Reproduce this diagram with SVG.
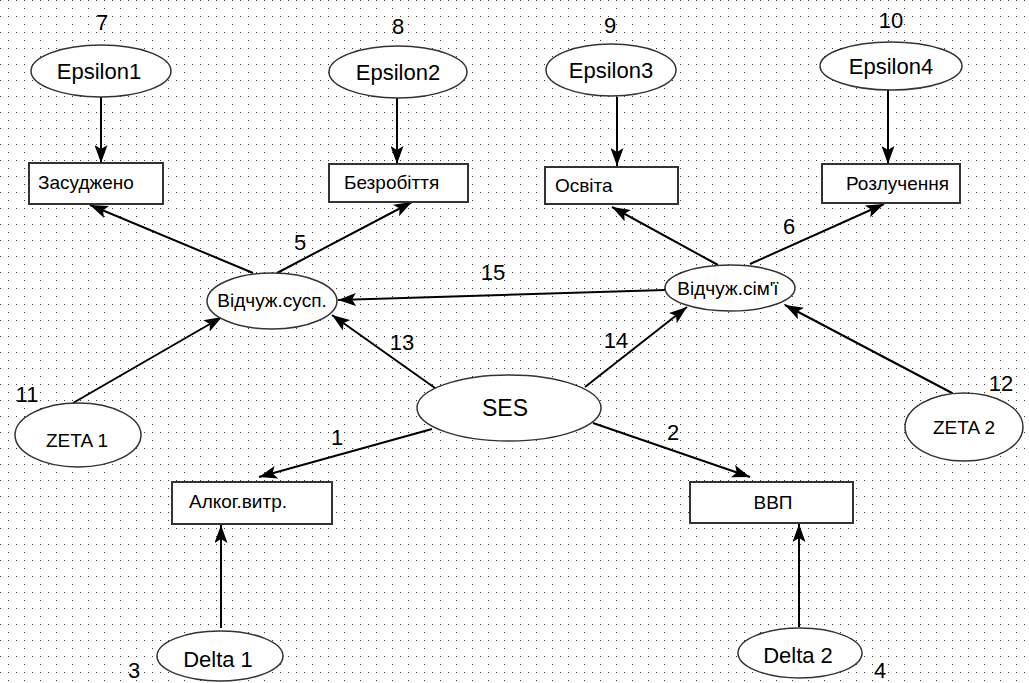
<svg xmlns="http://www.w3.org/2000/svg" width="1029" height="683" viewBox="0 0 1029 683">
<style>
.el{fill:#fff;stroke:#333;stroke-width:1.5}
.bx{fill:#fff;stroke:#333;stroke-width:2}
.t{font-family:"Liberation Sans",Arial,sans-serif;fill:#000}
.big{font-size:22px}
.box{font-size:19px}
.num{font-family:"Liberation Sans",Arial,sans-serif;font-size:22px;fill:#000;text-anchor:middle}
.c{stroke:#000;stroke-width:2;fill:none;marker-end:url(#ah)}
</style>
<defs>
<pattern id="dots" width="16" height="16" patternUnits="userSpaceOnUse">
<rect x="0" y="0" width="1" height="1" fill="#333"/>
<rect x="8" y="0" width="1" height="1" fill="#333"/>
<rect x="8" y="8" width="1" height="1" fill="#333"/>
</pattern>
<marker id="ah" markerUnits="userSpaceOnUse" markerWidth="19" markerHeight="13" refX="18" refY="6.5" orient="auto">
<path d="M0,0 L18,6.5 L0,13 L4,6.5 Z" fill="#000"/>
</marker>
</defs>
<rect width="1029" height="683" fill="#fff"/>
<rect width="1029" height="683" fill="url(#dots)"/>

<g id="connectors">
<line class="c" x1="101" y1="97" x2="101" y2="163"/>
<line class="c" x1="397" y1="98" x2="397" y2="164"/>
<line class="c" x1="617" y1="97" x2="617" y2="166"/>
<line class="c" x1="888" y1="90" x2="888" y2="164"/>
<line class="c" x1="253" y1="273" x2="90" y2="205"/>
<line class="c" x1="277" y1="273" x2="412" y2="202"/>
<line class="c" x1="718" y1="265" x2="612" y2="207"/>
<line class="c" x1="750" y1="264" x2="884" y2="204"/>
<line class="c" x1="665" y1="290" x2="338" y2="300"/>
<line class="c" x1="435" y1="388" x2="332" y2="315"/>
<line class="c" x1="585" y1="387" x2="687" y2="307"/>
<line class="c" x1="73" y1="403" x2="222" y2="317"/>
<line class="c" x1="952" y1="393" x2="785" y2="305"/>
<line class="c" x1="432" y1="429" x2="259" y2="477"/>
<line class="c" x1="593" y1="423" x2="750" y2="477"/>
<line class="c" x1="221" y1="628" x2="221" y2="525"/>
<line class="c" x1="799" y1="627" x2="799" y2="524"/>
</g>

<g id="labels">
<text class="num" x="102" y="30">7</text>
<text class="num" x="398" y="34">8</text>
<text class="num" x="610" y="33">9</text>
<text class="num" x="891" y="28">10</text>
<text class="num" x="300" y="250">5</text>
<text class="num" x="789" y="234">6</text>
<text class="num" x="493" y="280">15</text>
<text class="num" x="402" y="350">13</text>
<text class="num" x="616" y="348">14</text>
<text class="num" x="337" y="445">1</text>
<text class="num" x="673" y="440">2</text>
<text class="num" x="27" y="402">11</text>
<text class="num" x="1001" y="391">12</text>
<text class="num" x="134" y="678">3</text>
<text class="num" x="880" y="678">4</text>
</g>

<g id="epsilon1"><ellipse class="el" cx="101" cy="71" rx="70" ry="26"/><text class="t big" x="99" y="79" text-anchor="middle">Epsilon1</text></g>
<g id="epsilon2"><ellipse class="el" cx="398" cy="72" rx="69" ry="26"/><text class="t big" x="398" y="80" text-anchor="middle">Epsilon2</text></g>
<g id="epsilon3"><ellipse class="el" cx="611" cy="70" rx="65" ry="26"/><text class="t big" x="611" y="78" text-anchor="middle">Epsilon3</text></g>
<g id="epsilon4"><ellipse class="el" cx="891" cy="66" rx="71" ry="24"/><text class="t big" x="891" y="74" text-anchor="middle">Epsilon4</text></g>

<g id="zasudzheno"><rect class="bx" x="29" y="163" width="134" height="41"/><text class="t box" x="38" y="189">Засуджено</text></g>
<g id="bezrobittia"><rect class="bx" x="329" y="164" width="139" height="38"/><text class="t box" x="344" y="189">Безробіття</text></g>
<g id="osvita"><rect class="bx" x="545" y="167" width="133" height="37"/><text class="t box" x="555" y="192">Освіта</text></g>
<g id="rozluchennia"><rect class="bx" x="822" y="164" width="138" height="39"/><text class="t box" x="846" y="190">Розлучення</text></g>

<g id="vidchuzh-susp"><ellipse class="el" cx="272" cy="301" rx="65" ry="28"/><text class="t box" x="272" y="307" font-size="19.5" text-anchor="middle">Відчуж.сусп.</text></g>
<g id="vidchuzh-sim"><ellipse class="el" cx="730" cy="288" rx="65" ry="23"/><text class="t box" x="728" y="295" text-anchor="middle">Відчуж.сім'ї</text></g>

<g id="ses"><ellipse class="el" cx="509" cy="408" rx="92" ry="33"/><text class="t" x="505" y="416" font-size="23" text-anchor="middle">SES</text></g>

<g id="zeta1"><ellipse class="el" cx="78" cy="435" rx="63" ry="32"/><text class="t" x="77" y="447" font-size="19" text-anchor="middle">ZETA 1</text></g>
<g id="zeta2"><ellipse class="el" cx="964" cy="427" rx="59" ry="34"/><text class="t" x="964" y="434" font-size="19" text-anchor="middle">ZETA 2</text></g>

<g id="alkog"><rect class="bx" x="172" y="482" width="160" height="42"/><text class="t box" x="189" y="508">Алког.витр.</text></g>
<g id="vvp"><rect class="bx" x="690" y="482" width="163" height="41"/><text class="t box" x="773" y="509" text-anchor="middle">ВВП</text></g>

<g id="delta1"><ellipse class="el" cx="220" cy="656" rx="63" ry="25"/><text class="t big" x="218" y="667" text-anchor="middle">Delta 1</text></g>
<g id="delta2"><ellipse class="el" cx="800" cy="653" rx="62" ry="25"/><text class="t big" x="798" y="663" text-anchor="middle">Delta 2</text></g>
</svg>
